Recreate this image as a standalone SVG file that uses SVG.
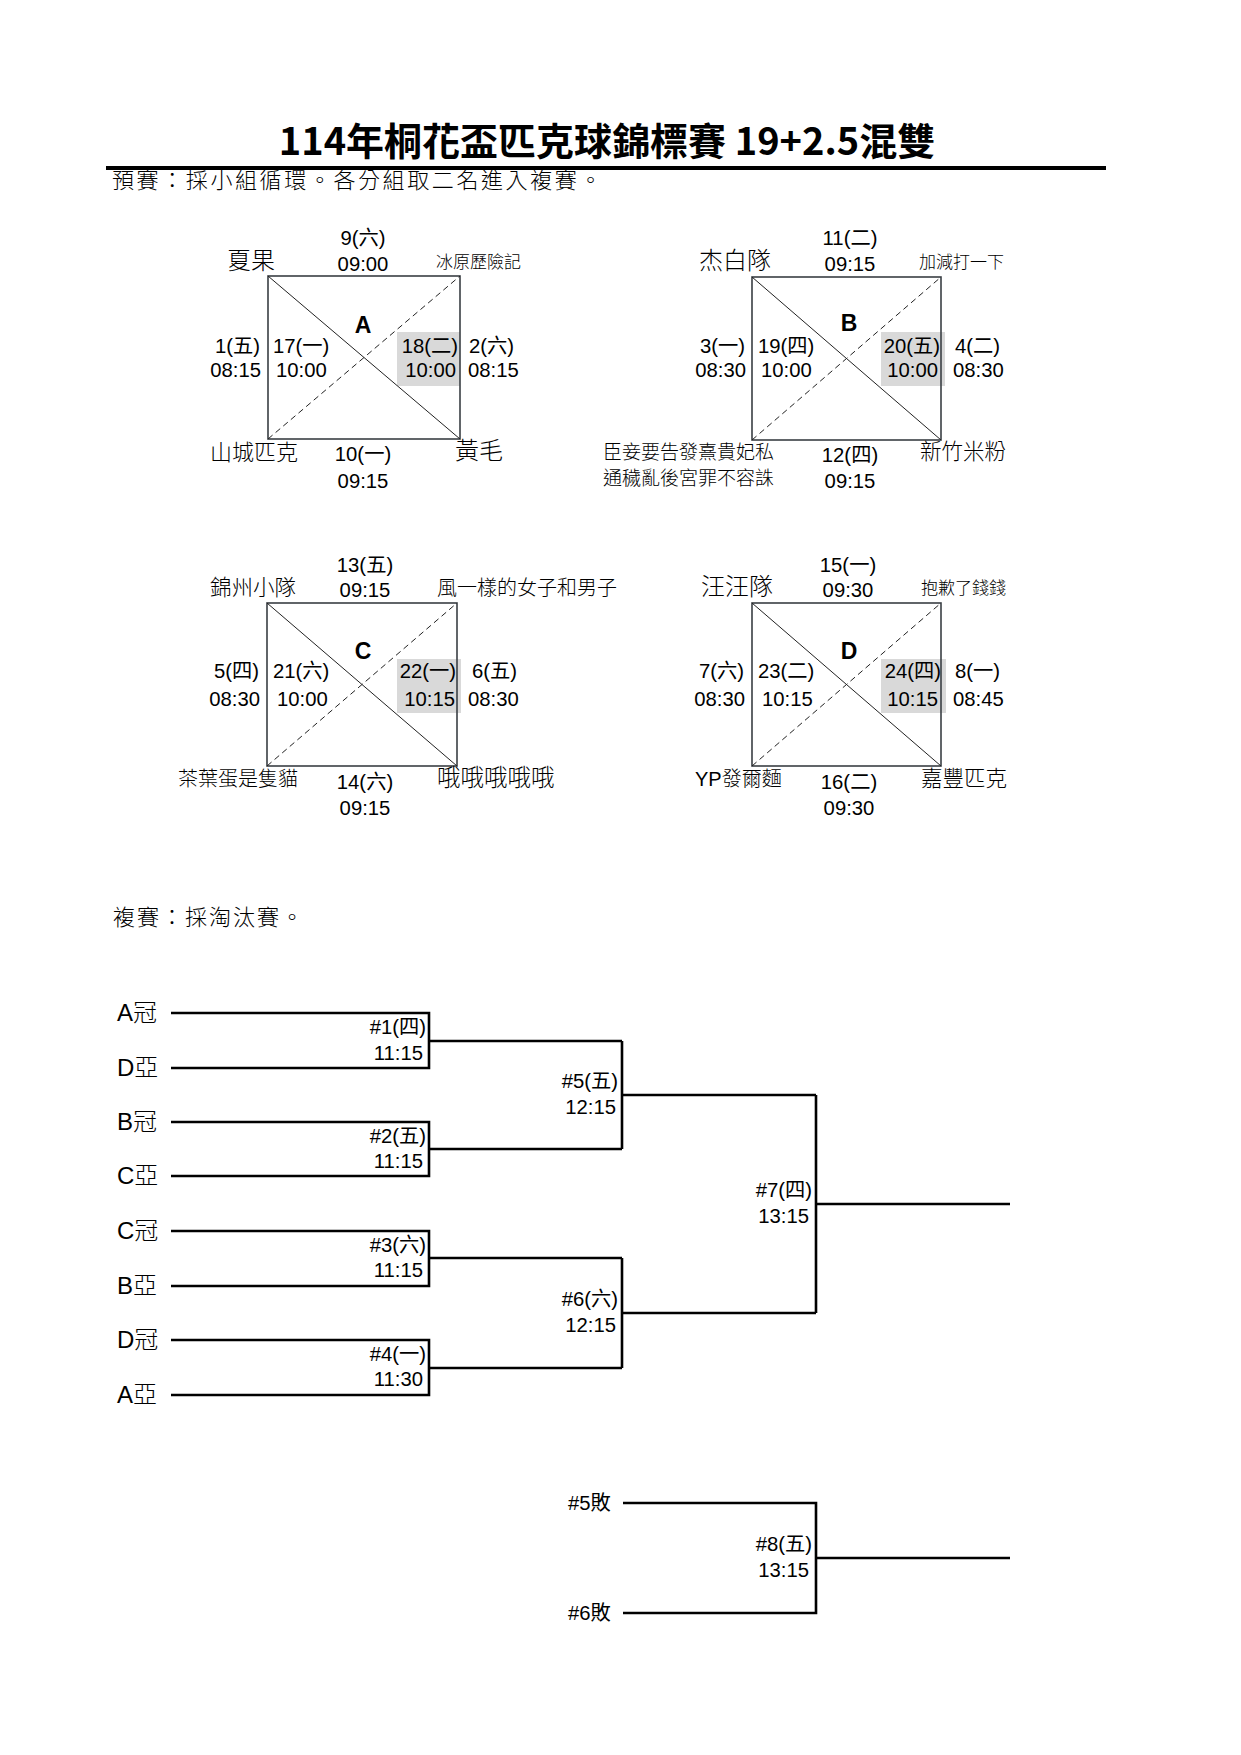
<svg xmlns="http://www.w3.org/2000/svg" width="1241" height="1755" viewBox="0 0 1241 1755">
<style>
text{font-family:"Liberation Sans","Noto Sans CJK TC",sans-serif;fill:#000;}
.n{font-size:20.3px;}
.m{text-anchor:middle;}
.e{text-anchor:end;}
.t{font-weight:300;}
.g{font-size:23px;font-weight:bold;text-anchor:middle;}
.box{fill:none;stroke:#3a3f44;stroke-width:1.6;}
.d1{stroke:#222;stroke-width:1;fill:none;}
.d2{stroke:#222;stroke-width:1;fill:none;stroke-dasharray:6 4;}
.hl{fill:#d9d9d9;}
.br{fill:none;stroke:#000;stroke-width:2.6;}
.lb{font-size:24px;}
</style>
<rect width="1241" height="1755" fill="#fff"/>
<g id="header">
<text x="607" y="155" text-anchor="middle" style="font-family:'Noto Sans CJK TC',sans-serif;font-weight:bold;font-size:38px">114年桐花盃匹克球錦標賽 19+2.5混雙</text>
<text x="112" y="188" class="t" style="font-size:22px;letter-spacing:2.6px">預賽：採小組循環。各分組取二名進入複賽。</text>
<rect x="106" y="166" width="1000" height="4" fill="#000"/>
</g>

<g id="groupA">
<rect class="hl" x="397" y="332" width="63" height="54"/>
<rect class="box" x="268" y="276" width="192" height="163"/>
<line class="d1" x1="268" y1="276" x2="460" y2="439"/>
<line class="d2" x1="268" y1="439" x2="460" y2="276"/>
<text class="n m" x="363" y="245">9(六)</text>
<text class="n m" x="363" y="271">09:00</text>
<text class="t" x="227" y="269" font-size="24">夏果</text>
<text class="t" x="436" y="268" font-size="17">冰原歷險記</text>
<text class="g" x="363" y="333">A</text>
<text class="n e" x="260" y="353">1(五)</text>
<text class="n e" x="261" y="377">08:15</text>
<text class="n" x="273" y="353">17(一)</text>
<text class="n" x="276" y="377">10:00</text>
<text class="n e" x="458" y="353">18(二)</text>
<text class="n e" x="456" y="377">10:00</text>
<text class="n" x="469" y="353">2(六)</text>
<text class="n" x="468" y="377">08:15</text>
<text class="t" x="210" y="460" font-size="22">山城匹克</text>
<text class="n m" x="363" y="461">10(一)</text>
<text class="n m" x="363" y="488">09:15</text>
<text class="t" x="455" y="459" font-size="24">黃毛</text>
</g>

<g id="groupB">
<rect class="hl" x="881" y="332" width="64" height="54"/>
<rect class="box" x="752" y="277" width="189" height="163"/>
<line class="d1" x1="752" y1="277" x2="941" y2="440"/>
<line class="d2" x1="752" y1="440" x2="941" y2="277"/>
<text class="n m" x="850" y="245">11(二)</text>
<text class="n m" x="850" y="271">09:15</text>
<text class="t" x="699" y="269" font-size="24">杰白隊</text>
<text class="t" x="919" y="268" font-size="17">加減打一下</text>
<text class="g" x="849" y="331">B</text>
<text class="n e" x="745" y="353">3(一)</text>
<text class="n e" x="746" y="377">08:30</text>
<text class="n" x="758" y="353">19(四)</text>
<text class="n" x="761" y="377">10:00</text>
<text class="n e" x="940" y="353">20(五)</text>
<text class="n e" x="938" y="377">10:00</text>
<text class="n" x="955" y="353">4(二)</text>
<text class="n" x="953" y="377">08:30</text>
<text class="t" x="603" y="459" font-size="19">臣妾要告發熹貴妃私</text>
<text class="t" x="603" y="485" font-size="19">通穢亂後宮罪不容誅</text>
<text class="n m" x="850" y="462">12(四)</text>
<text class="n m" x="850" y="488">09:15</text>
<text class="t" x="920" y="459" font-size="21.5">新竹米粉</text>
</g>

<g id="groupC">
<rect class="hl" x="397" y="659" width="64" height="54"/>
<rect class="box" x="267" y="603" width="190" height="163"/>
<line class="d1" x1="267" y1="603" x2="457" y2="766"/>
<line class="d2" x1="267" y1="766" x2="457" y2="603"/>
<text class="n m" x="365" y="572">13(五)</text>
<text class="n m" x="365" y="597">09:15</text>
<text class="t" x="210" y="595" font-size="21.5">錦州小隊</text>
<text class="t" x="437" y="595" font-size="20">風一樣的女子和男子</text>
<text class="g" x="363" y="659">C</text>
<text class="n e" x="259" y="678">5(四)</text>
<text class="n e" x="260" y="706">08:30</text>
<text class="n" x="273" y="678">21(六)</text>
<text class="n" x="277" y="706">10:00</text>
<text class="n e" x="456" y="678">22(一)</text>
<text class="n e" x="455" y="706">10:15</text>
<text class="n" x="472" y="678">6(五)</text>
<text class="n" x="468" y="706">08:30</text>
<text class="t" x="178" y="786" font-size="20">茶葉蛋是隻貓</text>
<text class="n m" x="365" y="789">14(六)</text>
<text class="n m" x="365" y="815">09:15</text>
<text class="t" x="437" y="786" font-size="23.5">哦哦哦哦哦</text>
</g>

<g id="groupD">
<rect class="hl" x="881" y="659" width="65" height="54"/>
<rect class="box" x="752" y="603" width="189" height="163"/>
<line class="d1" x1="752" y1="603" x2="941" y2="766"/>
<line class="d2" x1="752" y1="766" x2="941" y2="603"/>
<text class="n m" x="848" y="572">15(一)</text>
<text class="n m" x="848" y="597">09:30</text>
<text class="t" x="701" y="595" font-size="24">汪汪隊</text>
<text class="t" x="921" y="594" font-size="17">抱歉了錢錢</text>
<text class="g" x="849" y="659">D</text>
<text class="n e" x="744" y="678">7(六)</text>
<text class="n e" x="745" y="706">08:30</text>
<text class="n" x="758" y="678">23(二)</text>
<text class="n" x="762" y="706">10:15</text>
<text class="n e" x="941" y="678">24(四)</text>
<text class="n e" x="938" y="706">10:15</text>
<text class="n" x="955" y="678">8(一)</text>
<text class="n" x="953" y="706">08:45</text>
<text class="t" x="695" y="786" font-size="20">YP發爾麵</text>
<text class="n m" x="849" y="789">16(二)</text>
<text class="n m" x="849" y="815">09:30</text>
<text class="t" x="921" y="786" font-size="21.5">嘉豐匹克</text>
</g>

<g id="knockout-title">
<text x="113" y="925" class="t" style="font-size:22px;letter-spacing:2px">複賽：採淘汰賽。</text>
</g>

<g id="seeds">
<text class="lb t" x="117" y="1021">A冠</text>
<text class="lb t" x="117" y="1076">D亞</text>
<text class="lb t" x="117" y="1130">B冠</text>
<text class="lb t" x="117" y="1184">C亞</text>
<text class="lb t" x="117" y="1239">C冠</text>
<text class="lb t" x="117" y="1294">B亞</text>
<text class="lb t" x="117" y="1348">D冠</text>
<text class="lb t" x="117" y="1403">A亞</text>
</g>

<g id="connectors">
<path class="br" d="M171,1013 H429 V1068 H171 M429,1041 H622"/>
<path class="br" d="M171,1122 H429 V1176 H171 M429,1149 H622"/>
<path class="br" d="M171,1231 H429 V1286 H171 M429,1258 H622"/>
<path class="br" d="M171,1340 H429 V1395 H171 M429,1368 H622"/>
<path class="br" d="M622,1041 V1149 M622,1095 H816"/>
<path class="br" d="M622,1258 V1368 M622,1313 H816"/>
<path class="br" d="M816,1095 V1313 M816,1204 H1010"/>
<path class="br" d="M623,1503 H816 V1613 H623 M816,1558 H1010"/>
</g>

<g id="m1"><text class="n e" x="426" y="1034">#1(四)</text><text class="n e" x="423" y="1060">11:15</text></g>
<g id="m2"><text class="n e" x="426" y="1143">#2(五)</text><text class="n e" x="423" y="1168">11:15</text></g>
<g id="m3"><text class="n e" x="426" y="1252">#3(六)</text><text class="n e" x="423" y="1277">11:15</text></g>
<g id="m4"><text class="n e" x="426" y="1361">#4(一)</text><text class="n e" x="423" y="1386">11:30</text></g>
<g id="m5"><text class="n e" x="618" y="1088">#5(五)</text><text class="n e" x="616" y="1114">12:15</text></g>
<g id="m6"><text class="n e" x="618" y="1306">#6(六)</text><text class="n e" x="616" y="1332">12:15</text></g>
<g id="m7"><text class="n e" x="812" y="1197">#7(四)</text><text class="n e" x="809" y="1223">13:15</text></g>
<g id="losers"><text class="n" x="568" y="1510">#5敗</text><text class="n" x="568" y="1620">#6敗</text></g>
<g id="m8"><text class="n e" x="812" y="1551">#8(五)</text><text class="n e" x="809" y="1577">13:15</text></g>
</svg>
